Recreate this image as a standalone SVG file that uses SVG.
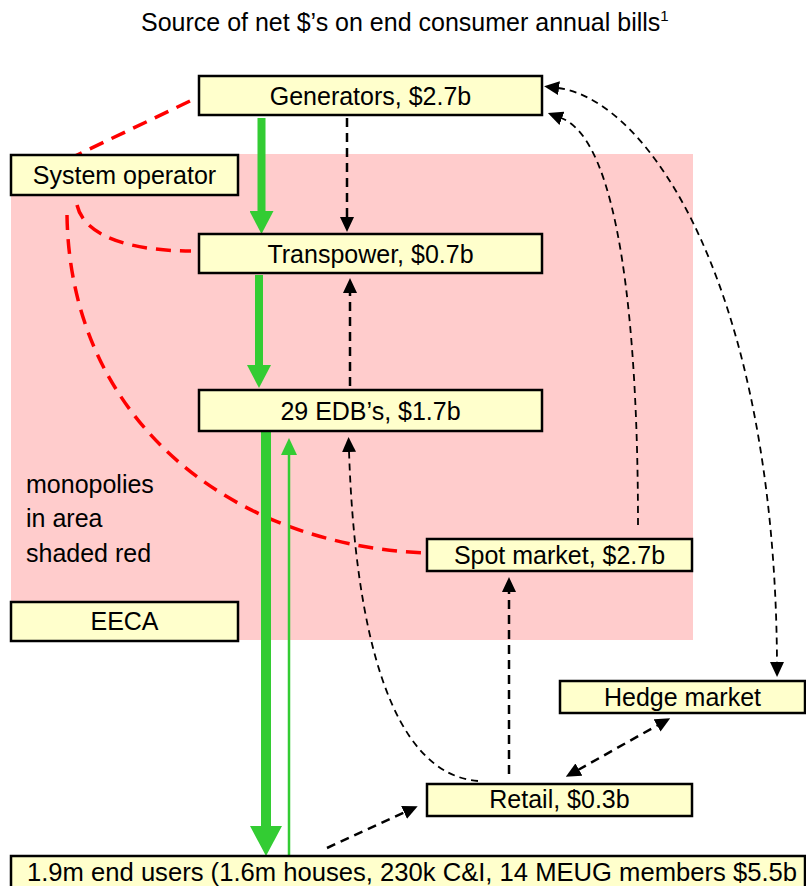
<svg xmlns="http://www.w3.org/2000/svg" width="806" height="886" viewBox="0 0 806 886">
<style>
.box{fill:#FFFFCC;stroke:#000;stroke-width:2.5}
.lbl{font-family:"Liberation Sans",Arial,sans-serif;font-size:25px;fill:#000;text-anchor:middle}
.txt{font-family:"Liberation Sans",Arial,sans-serif;font-size:25px;fill:#000}
.g8{stroke:#33CC33;stroke-width:8;fill:none}
.g10{stroke:#33CC33;stroke-width:10;fill:none}
.g2{stroke:#33CC33;stroke-width:2.5;fill:none}
.red{stroke:#FF0000;stroke-width:3.5;stroke-dasharray:15 9;fill:none}
.bd{stroke:#000;stroke-width:2.5;stroke-dasharray:9 6;fill:none}
.bc{stroke:#000;stroke-width:1.8;stroke-dasharray:7 5;fill:none}
</style>
<defs>
<marker id="ga" markerUnits="userSpaceOnUse" markerWidth="23" markerHeight="24" refX="1" refY="12" orient="auto" viewBox="0 0 23 24"><path d="M0,0 L23,12 L0,24 z" fill="#33CC33"/></marker>
<marker id="gb" markerUnits="userSpaceOnUse" markerWidth="30" markerHeight="32" refX="1" refY="16" orient="auto" viewBox="0 0 30 32"><path d="M0,0 L30,16 L0,32 z" fill="#33CC33"/></marker>
<marker id="gc" markerUnits="userSpaceOnUse" markerWidth="17" markerHeight="16" refX="1" refY="8" orient="auto" viewBox="0 0 17 16"><path d="M0,0 L17,8 L0,16 z" fill="#33CC33"/></marker>
<marker id="ba" markerUnits="userSpaceOnUse" markerWidth="15" markerHeight="14" refX="1" refY="7" orient="auto-start-reverse" viewBox="0 0 15 14"><path d="M0,0 L15,7 L0,14 z" fill="#000"/></marker>
</defs>
<rect x="0" y="0" width="806" height="886" fill="#fff"/>
<rect id="monopoly-area" x="11" y="154" width="682" height="486" fill="#FFCCCC"/>
<text id="title" class="txt" x="141" y="31">Source of net $’s on end consumer annual bills<tspan font-size="15" dy="-10">1</tspan></text>
<g id="connectors">
<path class="red" d="M190,101 L75,156"/>
<path class="red" d="M77,205 C85,240 140,251 191,251"/>
<path class="red" d="M67,215 C70,420 230,545 425,553"/>
<path class="g8" d="M261.5,118 L261.5,212" marker-end="url(#ga)"/>
<path class="g8" d="M259,275 L259,366" marker-end="url(#ga)"/>
<path class="g10" d="M266,432 L266,827" marker-end="url(#gb)"/>
<path class="g2" d="M289,856 L289,454" marker-end="url(#gc)"/>
<path class="bd" d="M347,118 L347,218" marker-end="url(#ba)"/>
<path class="bd" d="M350,386 L350,292" marker-end="url(#ba)"/>
<path class="bd" d="M509,774 L509,591" marker-end="url(#ba)"/>
<path class="bd" d="M327,848 L405,812" marker-end="url(#ba)"/>
<path class="bd" d="M578,770 L658,725" marker-start="url(#ba)" marker-end="url(#ba)"/>
<path class="bc" d="M478,781 C390,774 355,630 349,451" marker-end="url(#ba)"/>
<path class="bc" d="M638,525 C638,330 620,140 561,118" marker-end="url(#ba)"/>
<path class="bc" d="M558,88 C650,100 775,290 777,663" marker-start="url(#ba)" marker-end="url(#ba)"/>
</g>
<g id="generators"><rect class="box" x="199" y="76" width="343" height="39"/><text class="lbl" x="370.5" y="105">Generators, $2.7b</text></g>
<g id="system-operator"><rect class="box" x="11" y="155" width="227" height="40"/><text class="lbl" x="124.5" y="184">System operator</text></g>
<g id="transpower"><rect class="box" x="199" y="234" width="343" height="39"/><text class="lbl" x="370.5" y="263">Transpower, $0.7b</text></g>
<g id="edbs"><rect class="box" x="199" y="390" width="343" height="41"/><text class="lbl" x="370.5" y="420">29 EDB’s, $1.7b</text></g>
<g id="monopolies-note"><text class="txt" x="26" y="493">monopolies</text><text class="txt" x="26" y="527">in area</text><text class="txt" x="26" y="562">shaded red</text></g>
<g id="spot-market"><rect class="box" x="427" y="539" width="265" height="32"/><text class="lbl" x="559.5" y="564">Spot market, $2.7b</text></g>
<g id="eeca"><rect class="box" x="11" y="602" width="227" height="39"/><text class="lbl" x="124.5" y="630">EECA</text></g>
<g id="hedge-market"><rect class="box" x="560" y="681" width="245" height="32"/><text class="lbl" x="682.5" y="706">Hedge market</text></g>
<g id="retail"><rect class="box" x="427" y="784" width="265" height="32"/><text class="lbl" x="559.5" y="808">Retail, $0.3b</text></g>
<g id="end-users"><rect class="box" x="11" y="856" width="794" height="40"/><text class="txt" x="27" y="881" textLength="770" lengthAdjust="spacingAndGlyphs">1.9m end users (1.6m houses, 230k C&amp;I, 14 MEUG members $5.5b</text></g>
</svg>
